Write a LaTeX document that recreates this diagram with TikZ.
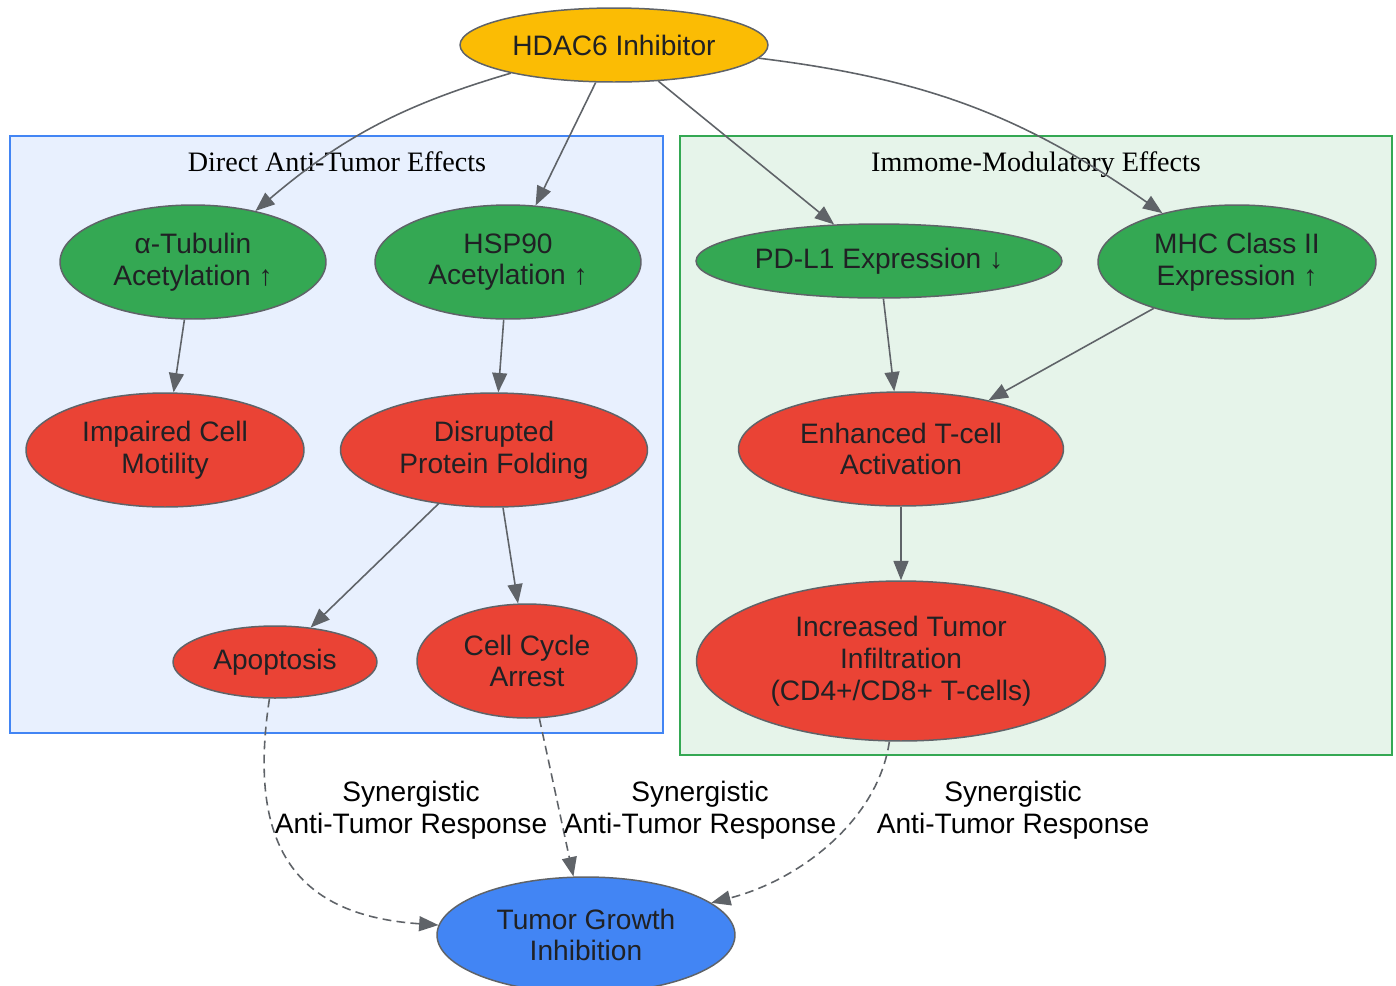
\documentclass[tikz,border=0pt]{standalone}
\usepackage{fontspec}
\setmainfont{Liberation Serif}
\setsansfont{Liberation Sans}
\usetikzlibrary{shapes.geometric,arrows.meta}
\definecolor{gyellow}{HTML}{FBBC04}
\definecolor{ggreen}{HTML}{34A853}
\definecolor{gred}{HTML}{EA4335}
\definecolor{gblue}{HTML}{4285F4}
\definecolor{edgegrey}{HTML}{5F6368}
\definecolor{inkgrey}{HTML}{202124}
\definecolor{bluewash}{HTML}{E8F0FE}
\definecolor{greenwash}{HTML}{E6F4EA}
\begin{document}
\begin{tikzpicture}[x=0.02cm,y=-0.02cm]
    \tikzset{oval/.style={draw=edgegrey,ellipse,line width=0.85pt,fill=#1,inner sep=0pt,align=center,text=inkgrey,font=\sffamily\fontsize{16}{18.1}\selectfont},
      dims/.style 2 args={minimum width=#1cm,minimum height=#2cm},
      link/.style={draw=edgegrey,line width=0.9pt,-{Triangle[length=11pt,width=8.5pt]}},
      synlink/.style={link,dash pattern=on 5pt off 3pt},
      cluster/.style 2 args={draw=#1,fill=#2,line width=1.1pt},
      cluster label/.style={anchor=base,font=\fontsize{16}{18.1}\selectfont},
      edge label/.style={align=center,font=\sffamily\fontsize{16}{18.1}\selectfont}}
    \useasboundingbox (0,0) rectangle (1396,985);

    % clusters
    \draw [cluster={gblue}{bluewash}] (10,136) rectangle (663,733);
    \draw [cluster={ggreen}{greenwash}] (680,136) rectangle (1392,755);
    \node [cluster label] (direct-title) at (337,171) {Direct Anti-Tumor Effects};
    \node [cluster label] (immune-title) at (1036,171) {Immome-Modulatory Effects};

    \node [oval=gyellow,dims={6.16}{1.48}] (HDAC) at (614,45) {HDAC6 Inhibitor};

    \node [oval=ggreen,dims={5.32}{2.28}] (TUB) at (193,262) {α-Tubulin\\Acetylation ↑};
    \node [oval=ggreen,dims={5.32}{2.28}] (HSP) at (508,262) {HSP90\\Acetylation ↑};
    \node [oval=ggreen,dims={7.32}{1.48}] (PDL) at (879,261) {PD-L1 Expression ↓};
    \node [oval=ggreen,dims={5.56}{2.28}] (MHC) at (1237,262) {MHC Class II\\Expression ↑};

    \node [oval=gred,dims={5.56}{2.28}] (IMP) at (165,450) {Impaired Cell\\Motility};
    \node [oval=gred,dims={6.14}{2.28}] (DIS) at (494,450) {Disrupted\\Protein Folding};
    \node [oval=gred,dims={6.5}{2.28}] (ENH) at (901,449) {Enhanced T-cell\\Activation};

    \node [oval=gred,dims={4.08}{1.44}] (APO) at (275,662) {Apoptosis};
    \node [oval=gred,dims={4.4}{2.28}] (CCA) at (527,661) {Cell Cycle\\Arrest};
    \node [oval=gred,dims={8.18}{3.2}] (INF) at (901,661) {Increased Tumor\\Infiltration\\(CD4+/CD8+ T-cells)};

    \node [oval=gblue,dims={5.96}{2.32}] (TGI) at (586,935) {Tumor Growth\\Inhibition};

    \draw [link] (HDAC) to[bend right=12] (TUB);
    \draw [link] (HDAC) -- (HSP);
    \draw [link] (HDAC) -- (PDL);
    \draw [link] (HDAC) to[bend left=14] (MHC);

    \draw [link] (TUB) -- (IMP);
    \draw [link] (HSP) -- (DIS);
    \draw [link] (DIS) -- (APO);
    \draw [link] (DIS) -- (CCA);
    \draw [link] (PDL) -- (ENH);
    \draw [link] (MHC) -- (ENH);
    \draw [link] (ENH) -- (INF);

    \draw [synlink] (APO) .. controls (248,840) and (290,915) .. (TGI);
    \draw [synlink] (CCA) -- (TGI);
    \draw [synlink] (INF) .. controls (878,820) and (800,880) .. (TGI);

    \node [edge label] (syn-a) at (411,810) {Synergistic\\Anti-Tumor Response};
    \node [edge label] (syn-b) at (700,810) {Synergistic\\Anti-Tumor Response};
    \node [edge label] (syn-c) at (1013,810) {Synergistic\\Anti-Tumor Response};
\end{tikzpicture}
\end{document}
